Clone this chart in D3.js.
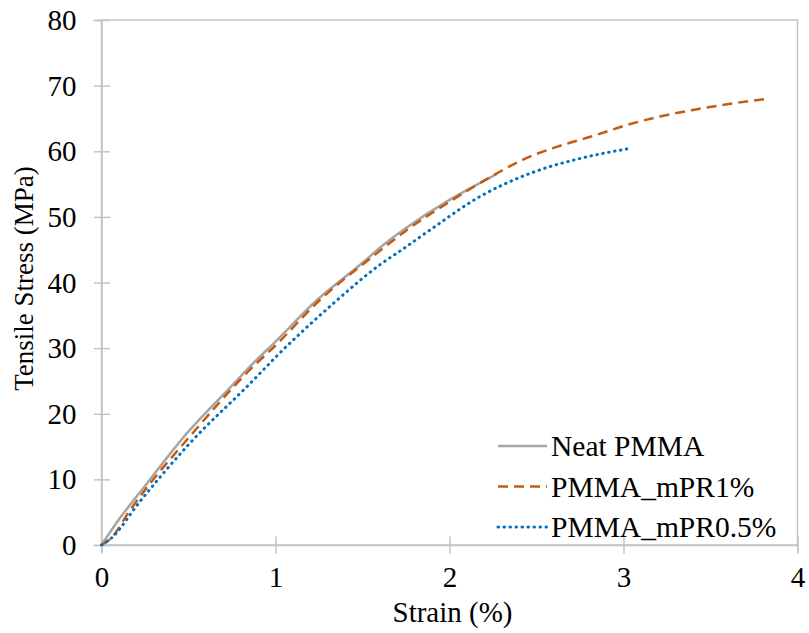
<!DOCTYPE html>
<html>
<head>
<meta charset="utf-8">
<script src="https://cdn.jsdelivr.net/npm/d3@7"></script>
</head>
<body style="margin: 0; background: white;">
<div id="my_dataviz"></div>
<script>
// Data (strain in %, stress in MPa)
const neatStrain = [0, 0.106, 0.25, 0.49, 0.75, 0.872, 1.0, 1.237, 1.5, 1.6, 1.75, 2.0, 2.15, 2.27];
const neatStress = [0, 4.1, 9.0, 17.0, 24.3, 27.7, 31.0, 37.3, 43.0, 45.3, 48.3, 52.6, 54.8, 56.5];

const mpr1Strain = [0, 0.05, 0.164, 0.28, 0.49, 0.872, 1.0, 1.246, 1.58, 1.75, 2.0, 2.27, 2.42, 2.62, 2.81, 3.02, 3.21, 3.40, 3.63, 3.83];
const mpr1Stress = [0, 0.9, 5.3, 9.4, 16.0, 27.2, 30.4, 37.1, 44.4, 47.9, 52.3, 56.6, 58.7, 60.7, 62.2, 64.0, 65.3, 66.3, 67.3, 68.0];

const mpr05Strain = [0, 0.05, 0.22, 0.49, 0.872, 1.0, 1.332, 1.6, 1.716, 1.888, 2.175, 2.46, 2.75, 3.03];
const mpr05Stress = [0, 0.9, 6.6, 15.0, 25.1, 28.6, 36.8, 42.7, 44.8, 48.0, 53.1, 56.6, 58.9, 60.4];

const seriesNames = ["Neat PMMA", "PMMA_mPR1%", "PMMA_mPR0.5%"];
const xTicks = [0, 1, 2, 3, 4];
const yTicks = [0, 10, 20, 30, 40, 50, 60, 70, 80];

// Chart size
const totalWidth = 809, totalHeight = 633;
const margin = { top: 20, right: 11.5, bottom: 88, left: 101.5 };
const width = totalWidth - margin.left - margin.right;
const height = totalHeight - margin.top - margin.bottom;

const serif = '"Liberation Serif"';
const axisColor = "#c4c4c4";
const fontSize = 29;

const svg = d3.select("#my_dataviz")
    .append("svg")
    .attr("width", totalWidth)
    .attr("height", totalHeight)
    .append("g")
    .attr("transform", `translate(${margin.left}, ${margin.top})`);

const x = d3.scaleLinear().domain([0, 4]).range([0, width]);
const y = d3.scaleLinear().domain([0, 80]).range([height, 0]);

// Plot frame (top and right edges)
svg.append("rect")
    .attr("x", 0).attr("y", 0)
    .attr("width", width).attr("height", height)
    .attr("fill", "none")
    .attr("stroke", axisColor)
    .attr("stroke-width", 1.5);

// Y axis, ticks cross the line
const yAxis = svg.append("g")
    .call(d3.axisLeft(y).tickValues(yTicks).tickFormat(d3.format("d")).tickSize(8).tickPadding(0));
yAxis.select(".domain").attr("stroke", axisColor).attr("stroke-width", 1.5);
yAxis.selectAll(".tick line").attr("stroke", axisColor).attr("stroke-width", 1.5)
    .attr("x1", -7.5).attr("x2", 8.5);
yAxis.selectAll(".tick text")
    .attr("x", -25)
    .attr("dy", "0.33em")
    .attr("fill", "#000")
    .style("font-family", serif)
    .style("font-size", fontSize + "px");

// X axis
const xAxis = svg.append("g")
    .attr("transform", `translate(0, ${height})`)
    .call(d3.axisBottom(x).tickValues(xTicks).tickFormat(d3.format("d")).tickSize(8));
xAxis.select(".domain").attr("stroke", axisColor).attr("stroke-width", 1.5);
xAxis.selectAll(".tick line").attr("stroke", axisColor).attr("stroke-width", 1.5)
    .attr("y1", -8.5).attr("y2", 8.5);
xAxis.selectAll(".tick text")
    .attr("y", 42)
    .attr("dy", 0)
    .attr("fill", "#000")
    .style("font-family", serif)
    .style("font-size", fontSize + "px");

// Axis titles
svg.append("text")
    .attr("x", width / 2 + 3)
    .attr("y", height + 77)
    .attr("text-anchor", "middle")
    .style("font-family", serif)
    .style("font-size", fontSize + "px")
    .text("Strain (%)");

svg.append("text")
    .attr("transform", `translate(${33 - margin.left}, ${height / 2 - 4}) rotate(-90)`)
    .attr("text-anchor", "middle")
    .style("font-family", serif)
    .style("font-size", "27px")
    .text("Tensile Stress (MPa)");

// Series lines
const series = [
    { name: seriesNames[0], xs: neatStrain, ys: neatStress, color: "#a5a5a5", dash: null, cap: "butt", w: 2.5 },
    { name: seriesNames[1], xs: mpr1Strain, ys: mpr1Stress, color: "#c55a11", dash: "10,6", cap: "butt", w: 2.5 },
    { name: seriesNames[2], xs: mpr05Strain, ys: mpr05Stress, color: "#0070c0", dash: "0.5,5.5", cap: "round", w: 3 }
];

const line = d3.line()
    .x(d => x(d[0]))
    .y(d => y(d[1]))
    .curve(d3.curveMonotoneX);

series.forEach(s => {
    svg.append("path")
        .datum(s.xs.map((v, i) => [v, s.ys[i]]))
        .attr("fill", "none")
        .attr("stroke", s.color)
        .attr("stroke-width", s.w)
        .attr("stroke-linecap", s.cap)
        .attr("stroke-dasharray", s.dash)
        .attr("d", line);
});

// Legend inside plot, bottom right
const legend = svg.append("g")
    .attr("transform", `translate(${498 - margin.left}, ${446 - margin.top})`);

series.forEach((s, i) => {
    const row = legend.append("g").attr("transform", `translate(0, ${i * 40.5})`);
    row.append("line")
        .attr("x1", 0).attr("x2", 49)
        .attr("y1", 0).attr("y2", 0)
        .attr("stroke", s.color)
        .attr("stroke-width", s.w)
        .attr("stroke-linecap", s.cap)
        .attr("stroke-dasharray", s.dash);
    row.append("text")
        .attr("x", 53)
        .attr("y", 10)
        .style("font-family", serif)
        .style("font-size", "29.5px")
        .text(s.name);
});
</script>
</body>
</html>
